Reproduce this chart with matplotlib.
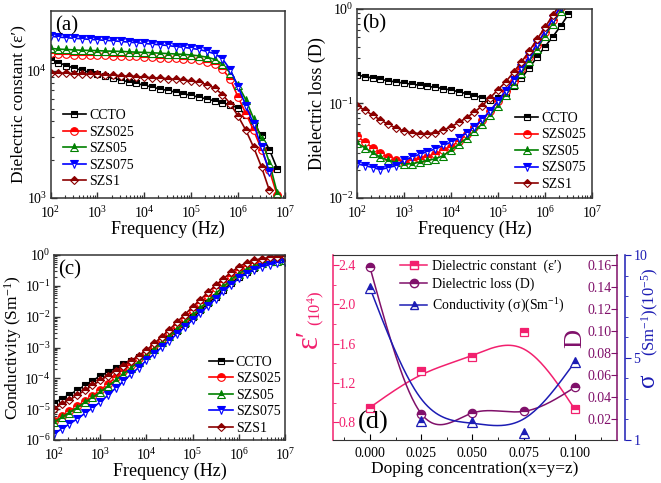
import numpy as np
import matplotlib
matplotlib.use("Agg")
import matplotlib.pyplot as plt
from matplotlib.lines import Line2D
from matplotlib.ticker import LogLocator, NullFormatter, MultipleLocator, FormatStrFormatter

plt.rcParams['font.family'] = ['Liberation Serif', 'DejaVu Serif']
plt.rcParams['mathtext.fontset'] = 'custom'
plt.rcParams['mathtext.rm'] = 'Liberation Serif'
plt.rcParams['mathtext.it'] = 'Liberation Serif:italic'
plt.rcParams['mathtext.bf'] = 'Liberation Serif:bold'
plt.rcParams['axes.unicode_minus'] = False

# ---------------- data ----------------
freq = [1.00e2, 1.47e2, 2.15e2, 3.16e2, 4.64e2, 6.81e2,
        1.00e3, 1.47e3, 2.15e3, 3.16e3, 4.64e3, 6.81e3,
        1.00e4, 1.47e4, 2.15e4, 3.16e4, 4.64e4, 6.81e4,
        1.00e5, 1.47e5, 2.15e5, 3.16e5, 4.64e5, 6.81e5,
        1.00e6, 1.47e6, 2.15e6, 3.16e6, 4.64e6, 6.81e6, 1.00e7]

samples = ['CCTO', 'SZS025', 'SZS05', 'SZS075', 'SZS1']

# (a) dielectric constant
eps_ccto = [12200, 11600, 11000, 10500, 10100, 9700, 9400, 9050, 8750, 8450, 8200, 7950,
            7700, 7450, 7200, 7000, 6800, 6600, 6400, 6200, 6000, 5800, 5600, 5400,
            5100, 4500, 3800, 3100, 2400, 1700]
eps_szs025 = [13700, 13600, 13500, 13400, 13350, 13300, 13250, 13200, 13150, 13100, 13000, 12950,
              12900, 12800, 12700, 12600, 12500, 12400, 12300, 12100, 11800, 11300, 10300, 8600,
              6200, 4600, 3400, 2400, 1650, 1050]
eps_szs05 = [15000, 14800, 14700, 14600, 14500, 14450, 14400, 14300, 14250, 14200, 14100, 14000,
             13950, 13850, 13750, 13650, 13550, 13450, 13300, 13100, 12800, 12300, 11300, 9600,
             7700, 5900, 4200, 2900, 1900, 1100]
eps_szs075 = [18700, 18400, 18200, 18000, 17850, 17650, 17500, 17350, 17200, 17000, 16800, 16600,
              16400, 16200, 16000, 15800, 15500, 15300, 15000, 14700, 14200, 13600, 12400, 10200,
              7500, 5300, 3800, 2500, 1600]
eps_szs1 = [9600, 9600, 9550, 9500, 9450, 9400, 9350, 9300, 9200, 9150, 9050, 9000,
            8900, 8800, 8750, 8650, 8550, 8450, 8300, 8100, 7800, 7300, 6500, 5500,
            4400, 3400, 2500, 1750, 1150]

# (b) dielectric loss
loss_ccto = [0.200, 0.193, 0.186, 0.180, 0.174, 0.169, 0.164, 0.160, 0.156, 0.152, 0.148, 0.144,
             0.139, 0.133, 0.127, 0.121, 0.115, 0.110, 0.113, 0.130, 0.152, 0.185, 0.240, 0.310,
             0.400, 0.510, 0.660, 0.880]
loss_szs025 = [0.045, 0.039, 0.034, 0.030, 0.027, 0.025, 0.024, 0.025, 0.026, 0.027, 0.029, 0.032,
               0.035, 0.040, 0.047, 0.056, 0.067, 0.083, 0.105, 0.135, 0.175, 0.230, 0.310, 0.420,
               0.570, 0.770, 1.040]
loss_szs05 = [0.038, 0.034, 0.030, 0.027, 0.025, 0.024, 0.023, 0.023, 0.024, 0.025, 0.026, 0.028,
              0.032, 0.037, 0.043, 0.051, 0.061, 0.075, 0.095, 0.123, 0.160, 0.210, 0.280, 0.380,
              0.520, 0.700, 0.950, 1.250]
loss_szs075 = [0.023, 0.022, 0.021, 0.020, 0.021, 0.022, 0.025, 0.027, 0.029, 0.031, 0.033, 0.036,
               0.039, 0.043, 0.049, 0.057, 0.068, 0.084, 0.106, 0.137, 0.178, 0.235, 0.315, 0.430,
               0.580, 0.790, 1.060]
loss_szs1 = [0.095, 0.085, 0.075, 0.067, 0.060, 0.055, 0.051, 0.049, 0.048, 0.048, 0.049, 0.052,
             0.057, 0.063, 0.071, 0.081, 0.095, 0.115, 0.140, 0.170, 0.215, 0.275, 0.360, 0.480,
             0.640, 0.860, 1.150]

# (c) conductivity, log10(S/m)
logsig_ccto = [-4.80, -4.66, -4.53, -4.39, -4.23, -4.08, -3.92, -3.80, -3.67, -3.55, -3.43, -3.32,
               -3.20, -3.03, -2.85, -2.66, -2.45, -2.24, -2.02, -1.79, -1.57, -1.35, -1.13, -0.92,
               -0.72, -0.55, -0.41, -0.30, -0.22, -0.16, -0.12]
logsig_szs025 = [-5.37, -5.21, -5.06, -4.90, -4.73, -4.56, -4.39, -4.18, -3.97, -3.76, -3.56, -3.35,
                 -3.15, -2.93, -2.72, -2.50, -2.26, -2.03, -1.79, -1.55, -1.32, -1.08, -0.87, -0.67,
                 -0.49, -0.36, -0.26, -0.18, -0.13, -0.10, -0.08]
logsig_szs05 = [-5.42, -5.26, -5.11, -4.95, -4.78, -4.62, -4.45, -4.26, -4.06, -3.87, -3.66, -3.46,
                -3.25, -3.04, -2.83, -2.62, -2.40, -2.17, -1.95, -1.72, -1.48, -1.25, -1.02, -0.80,
                -0.60, -0.46, -0.35, -0.27, -0.21, -0.18, -0.16]
logsig_szs075 = [-5.80, -5.64, -5.48, -5.32, -5.14, -4.96, -4.77, -4.55, -4.32, -4.10, -3.87, -3.65,
                 -3.42, -3.21, -2.99, -2.78, -2.55, -2.33, -2.11, -1.88, -1.65, -1.42, -1.18, -0.96,
                 -0.76, -0.60, -0.48, -0.38, -0.31, -0.26, -0.22]
logsig_szs1 = [-4.99, -4.84, -4.70, -4.55, -4.39, -4.23, -4.07, -3.91, -3.76, -3.60, -3.43, -3.26,
               -3.09, -2.87, -2.65, -2.42, -2.17, -1.93, -1.68, -1.45, -1.21, -0.98, -0.77, -0.56,
               -0.38, -0.25, -0.17, -0.12, -0.08, -0.05, -0.02]

# (d) vs doping concentration
doping = [0.000, 0.025, 0.050, 0.075, 0.100]
eps_d = [0.95, 1.32, 1.46, 1.72, 0.93]          # x10^4
loss_d = [0.158, 0.025, 0.0255, 0.027, 0.049]
cond_d = [8.4, 1.93, 1.90, 1.36, 4.80]          # x10^-5 S/m

# ---------------- styles ----------------
colors = ['black', '#ff0000', '#008000', '#0000ff', '#8b0000']
markers = ['s', 'o', '^', 'v', 'D']
msizes = [5, 5.5, 5.5, 5.5, 4.5]
spine_c = '#333333'
pink = '#f2206e'
purple = '#80106a'
dblue = '#1c1cb4'
TICK = 10

W, H = 661, 483
fig = plt.figure(figsize=(W / 100, H / 100), dpi=100)


def box(l, t, r, b):
    return [l / W, 1 - b / H, (r - l) / W, (b - t) / H]


def style_log(ax):
    for s in ax.spines.values():
        s.set_color(spine_c)
        s.set_linewidth(1.1)
    ax.set_xscale('log')
    ax.set_yscale('log')
    ax.xaxis.set_major_locator(LogLocator(base=10, numticks=10))
    ax.xaxis.set_minor_locator(LogLocator(base=10, subs=np.arange(2, 10), numticks=20))
    ax.xaxis.set_minor_formatter(NullFormatter())
    ax.yaxis.set_minor_locator(LogLocator(base=10, subs=np.arange(2, 10), numticks=20))
    ax.yaxis.set_minor_formatter(NullFormatter())
    ax.tick_params(which='both', direction='in', top=False, right=False,
                   labelsize=TICK, colors=spine_c, labelcolor='black')
    ax.tick_params(axis='x', which='both', pad=5)
    ax.tick_params(axis='y', which='both', pad=2.5)
    ax.tick_params(which='major', length=4, width=1)
    ax.tick_params(which='minor', length=2, width=0.8)
    ax.set_xlim(1e2, 1e7)
    ax.set_xlabel('Frequency (Hz)', fontsize=13, labelpad=0)


def plot_series(ax, series):
    for name, vals, c, m, ms in zip(samples, series, colors, markers, msizes):
        ax.plot(freq[:len(vals)], vals, color=c, marker=m, ms=ms, lw=1.2,
                fillstyle='top', mfc=c, mfcalt='white', mec=c, mew=0.8,
                label=name, clip_on=True)


def panel_legend(ax, x0, y0):
    ax.legend(loc='upper left', bbox_to_anchor=(x0, y0), frameon=False, fontsize=10,
              handlelength=1.7, handletextpad=0.2, labelspacing=0.25, borderpad=0.2,
              borderaxespad=0)


# (a)
axa = fig.add_axes(box(50.5, 11, 285, 198))
style_log(axa)
plot_series(axa, [eps_ccto, eps_szs025, eps_szs05, eps_szs075, eps_szs1])
axa.set_ylim(1e3, 2.95e4)
axa.set_ylabel('Dielectric constant (ε′)', fontsize=12.5, labelpad=0)
panel_legend(axa, 0.04, 0.49)
axa.text(0.02, 0.97, '(a)', transform=axa.transAxes, fontsize=15, va='top', ha='left')

# (b)
axb = fig.add_axes(box(357, 9, 592, 198))
style_log(axb)
plot_series(axb, [loss_ccto, loss_szs025, loss_szs05, loss_szs075, loss_szs1])
axb.set_ylim(1e-2, 1e0)
axb.set_ylabel('Dielectric loss (D)', fontsize=13, labelpad=1)
panel_legend(axb, 0.66, 0.47)
axb.text(0.02, 0.97, '(b)', transform=axb.transAxes, fontsize=15, va='top', ha='left')

# (c)
axc = fig.add_axes(box(54, 255, 285, 440))
style_log(axc)
sig_series = [[10 ** v for v in s] for s in
              [logsig_ccto, logsig_szs025, logsig_szs05, logsig_szs075, logsig_szs1]]
plot_series(axc, sig_series)
axc.set_ylim(1e-6, 1e0)
axc.set_ylabel('Conductivity (Sm$^{-1}$)', fontsize=12.5, labelpad=0)
panel_legend(axc, 0.66, 0.47)
axc.text(0.02, 0.97, '(c)', transform=axc.transAxes, fontsize=15, va='top', ha='left')


# (d)
def bspline_curve(xs, ys, n=40):
    P = np.column_stack([xs, ys]).astype(float)
    Q = np.vstack([2 * P[0] - P[1], P, 2 * P[-1] - P[-2]])
    t = np.linspace(0, 1, n)
    b0 = (1 - t) ** 3 / 6
    b1 = (3 * t ** 3 - 6 * t ** 2 + 4) / 6
    b2 = (-3 * t ** 3 + 3 * t ** 2 + 3 * t + 1) / 6
    b3 = t ** 3 / 6
    segs = []
    for j in range(len(Q) - 3):
        segs.append(b0[:, None] * Q[j] + b1[:, None] * Q[j + 1]
                    + b2[:, None] * Q[j + 2] + b3[:, None] * Q[j + 3])
    c = np.vstack(segs)
    return c[:, 0], c[:, 1]


def natural_spline(xs, ys, n=200):
    x = np.asarray(xs, float)
    y = np.asarray(ys, float)
    N = len(x)
    h = np.diff(x)
    A = np.zeros((N, N))
    r = np.zeros(N)
    A[0, 0] = 1
    A[-1, -1] = 1
    for i in range(1, N - 1):
        A[i, i - 1] = h[i - 1]
        A[i, i] = 2 * (h[i - 1] + h[i])
        A[i, i + 1] = h[i]
        r[i] = 6 * ((y[i + 1] - y[i]) / h[i] - (y[i] - y[i - 1]) / h[i - 1])
    M = np.linalg.solve(A, r)
    xx = np.linspace(x[0], x[-1], n)
    idx = np.clip(np.searchsorted(x, xx) - 1, 0, N - 2)
    hi = h[idx]
    a = (x[idx + 1] - xx) / hi
    b = (xx - x[idx]) / hi
    yy = a * y[idx] + b * y[idx + 1] + ((a ** 3 - a) * M[idx] + (b ** 3 - b) * M[idx + 1]) * hi ** 2 / 6
    return xx, yy


axd = fig.add_axes(box(333, 255, 617, 440))
axd2 = axd.twinx()
axd3 = axd.twinx()

# host: epsilon'
ex, ey = bspline_curve(doping, eps_d)
axd.plot(ex, ey, color=pink, lw=1.1)
axd.plot(doping, eps_d, ls='none', marker='s', ms=6, color=pink, fillstyle='top',
         mfc=pink, mfcalt='white', mec=pink, mew=0.9)
axd.set_xlim(-0.018, 0.1205)
axd.set_ylim(0.62, 2.50)
axd.set_yticks([0.8, 1.2, 1.6, 2.0, 2.4])
axd.yaxis.set_minor_locator(MultipleLocator(0.2))
axd.yaxis.set_major_formatter(FormatStrFormatter('%.1f'))
axd.set_xticks([0.0, 0.025, 0.05, 0.075, 0.1])
axd.xaxis.set_major_formatter(FormatStrFormatter('%.3f'))
axd.xaxis.set_minor_locator(MultipleLocator(0.0125))
axd.tick_params(axis='x', which='both', direction='in', labelsize=TICK, top=False, pad=5)
axd.tick_params(axis='x', which='major', length=4)
axd.tick_params(axis='x', which='minor', length=2)
axd.tick_params(axis='y', which='both', direction='in', colors=pink, labelsize=TICK, pad=-4)
axd.tick_params(axis='y', which='major', length=4)
axd.tick_params(axis='y', which='minor', length=2)
for t in axd.get_yticklabels():
    t.set_horizontalalignment('left')
axd.spines['left'].set_color(pink)
axd.spines['left'].set_linewidth(1.1)
axd.spines['right'].set_visible(False)
axd.spines['top'].set_color(spine_c)
axd.spines['bottom'].set_color(spine_c)
axd.set_xlabel('Doping concentration(x=y=z)', fontsize=12.5, labelpad=1)

# D axis
dx, dy = natural_spline(doping, loss_d)
axd2.plot(dx, dy, color=purple, lw=1.1)
axd2.plot(doping, loss_d, ls='none', marker='o', ms=6, color=purple, fillstyle='top',
          mfc=purple, mfcalt='white', mec=purple, mew=0.9)
axd2.set_ylim(0.001, 0.169)
axd2.set_yticks([0.02, 0.04, 0.06, 0.08, 0.10, 0.12, 0.14, 0.16])
axd2.yaxis.set_major_formatter(FormatStrFormatter('%.2f'))
axd2.tick_params(axis='y', which='both', direction='in', colors=purple, labelsize=TICK,
                 pad=-4, length=4)
for t in axd2.get_yticklabels():
    t.set_horizontalalignment('right')
for s in ['left', 'top', 'bottom']:
    axd2.spines[s].set_visible(False)
axd2.spines['right'].set_color(purple)
axd2.spines['right'].set_linewidth(1.1)

# sigma axis
sx, sy = bspline_curve(doping, cond_d)
axd3.plot(sx, sy, color=dblue, lw=1.1)
axd3.plot(doping, cond_d, ls='none', marker='^', ms=6.5, color=dblue, fillstyle='top',
          mfc=dblue, mfcalt='white', mec=dblue, mew=0.9)
axd3.set_ylim(1, 10)
axd3.set_yticks([1, 5, 10])
axd3.yaxis.set_minor_locator(MultipleLocator(1))
axd3.spines['right'].set_position(('axes', (625 - 333) / (617 - 333)))
for s in ['left', 'top', 'bottom']:
    axd3.spines[s].set_visible(False)
axd3.spines['right'].set_color(dblue)
axd3.spines['right'].set_linewidth(1.1)
axd3.tick_params(axis='y', which='both', direction='out', colors=dblue, labelsize=TICK, pad=2)
axd3.tick_params(axis='y', which='major', length=4)
axd3.tick_params(axis='y', which='minor', length=2)

handles = [
    Line2D([], [], color=pink, marker='s', ms=6, fillstyle='top', mfc=pink,
           mfcalt='white', mec=pink, lw=1.1),
    Line2D([], [], color=purple, marker='o', ms=6, fillstyle='top', mfc=purple,
           mfcalt='white', mec=purple, lw=1.1),
    Line2D([], [], color=dblue, marker='^', ms=6, fillstyle='top', mfc=dblue,
           mfcalt='white', mec=dblue, lw=1.1),
]
labels = ['Dielectric constant  (ε′)', 'Dielectric loss (D)', 'Conductivity (σ)(Sm$^{-1}$)']
axd3.legend(handles, labels, loc='upper left', bbox_to_anchor=(0.225, 0.99), frameon=False,
            fontsize=10, handlelength=2.0, handletextpad=0.3, labelspacing=0.35,
            borderaxespad=0, borderpad=0.2)
axd3.text(0.088, 0.03, '(d)', transform=axd.transAxes, fontsize=19, va='bottom', ha='left')

# axis titles of (d)
fig.text(309 / W, 1 - 338 / H, 'ε′', rotation=90, color=pink, fontsize=22,
         ha='center', va='center')
fig.text(316 / W, 1 - 308 / H, '(10$^{4}$)', rotation=90, color=pink, fontsize=12,
         ha='center', va='center')
fig.text(575 / W, 1 - 338 / H, 'D', rotation=90, color=purple, fontsize=19,
         ha='center', va='center')
fig.text(648 / W, 1 - 380 / H, 'σ', rotation=90, color=dblue, fontsize=18,
         ha='center', va='center')
fig.text(650 / W, 1 - 312 / H, '(Sm$^{-1}$)(10$^{-5}$)', rotation=90, color=dblue,
         fontsize=12, ha='center', va='center')

fig.savefig('out.png', dpi=100)
